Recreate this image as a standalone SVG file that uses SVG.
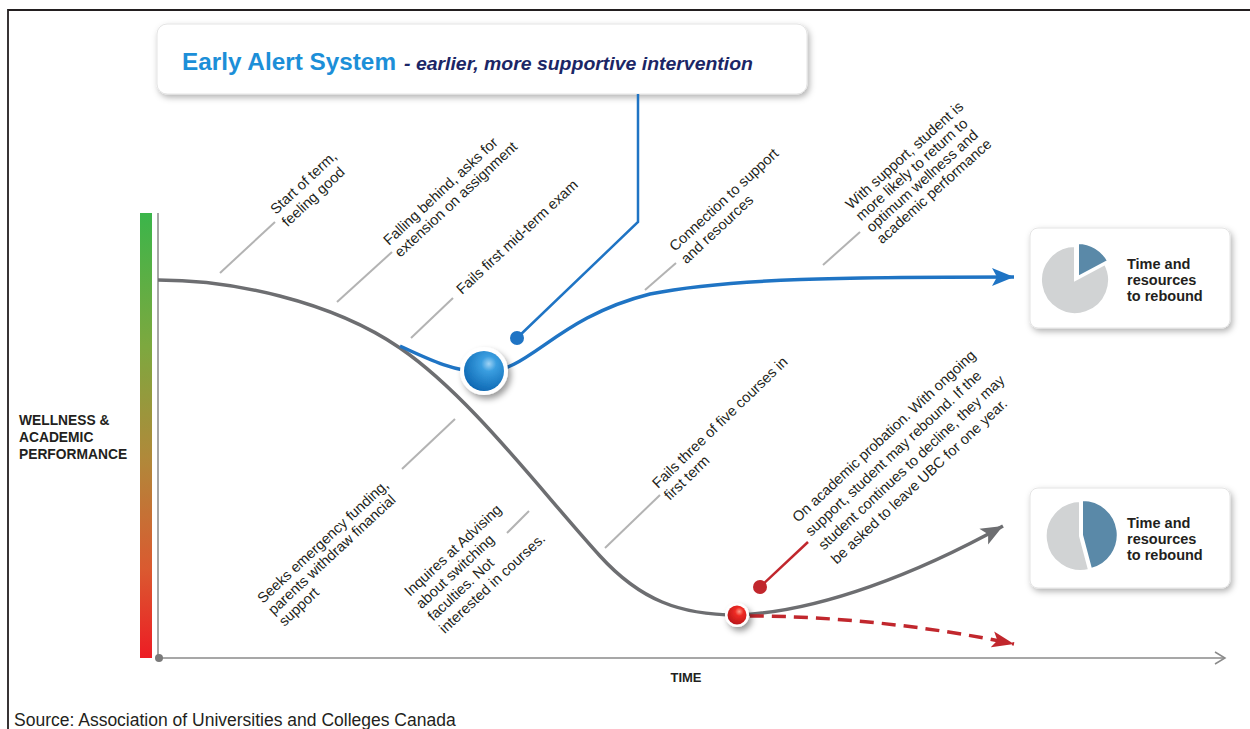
<svg xmlns="http://www.w3.org/2000/svg" width="1250" height="729" viewBox="0 0 1250 729">
<style>
.lbl{font-family:"Liberation Sans",Arial,sans-serif;font-size:14.6px;fill:#231f20}
.bold{font-family:"Liberation Sans",Arial,sans-serif;font-weight:bold;fill:#231f20}
.lead{stroke:#b3b3b3;stroke-width:2;fill:none}
.card{fill:#fff;stroke:#e4e4e4;stroke-width:1}
</style>
<defs>
<linearGradient id="bar" x1="0" y1="0" x2="0" y2="1">
<stop offset="0" stop-color="#3bb54a"/>
<stop offset="0.3" stop-color="#7da83f"/>
<stop offset="0.55" stop-color="#b0893a"/>
<stop offset="0.8" stop-color="#da5a30"/>
<stop offset="1" stop-color="#ed1c24"/>
</linearGradient>
<radialGradient id="blueBall" cx="0.62" cy="0.32" r="0.75">
<stop offset="0" stop-color="#9fd3f5"/>
<stop offset="0.25" stop-color="#3a9ee0"/>
<stop offset="1" stop-color="#0a64b0"/>
</radialGradient>
<radialGradient id="redBall" cx="0.62" cy="0.32" r="0.75">
<stop offset="0" stop-color="#ff9a8a"/>
<stop offset="0.3" stop-color="#ee2a22"/>
<stop offset="1" stop-color="#b5141a"/>
</radialGradient>
<filter id="shadow" x="-10%" y="-20%" width="125%" height="150%">
<feDropShadow dx="2" dy="3" stdDeviation="3" flood-color="#000" flood-opacity="0.3"/>
</filter>
<filter id="ballShadow" x="-50%" y="-50%" width="220%" height="220%">
<feDropShadow dx="3" dy="4" stdDeviation="3" flood-color="#000" flood-opacity="0.4"/>
</filter>
<marker id="arrBlue" markerUnits="userSpaceOnUse" markerWidth="24" markerHeight="20" refX="22" refY="10" orient="auto">
<path d="M0,1 L22,10 L0,19 L5,10 Z" fill="#1f74c4"/>
</marker>
<marker id="arrGray" markerUnits="userSpaceOnUse" markerWidth="24" markerHeight="20" refX="22" refY="10" orient="auto">
<path d="M0,1 L22,10 L0,19 L5,10 Z" fill="#6d6e71"/>
</marker>
<marker id="arrRed" markerUnits="userSpaceOnUse" markerWidth="24" markerHeight="20" refX="22" refY="10" orient="auto">
<path d="M0,2 L22,10 L0,18 L5,10 Z" fill="#c1272d"/>
</marker>
<marker id="arrAxis" markerUnits="userSpaceOnUse" markerWidth="14" markerHeight="14" refX="11" refY="7" orient="auto">
<path d="M1,1 L11,7 L1,13" fill="none" stroke="#8a8a8a" stroke-width="1.5"/>
</marker>
</defs>

<rect width="1250" height="729" fill="#fff"/>
<!-- frame -->
<path d="M8,729 L8,10 L1250,10" fill="none" stroke="#231f20" stroke-width="1.8"/>

<!-- axes -->
<g id="axes">
<rect x="140" y="213" width="12" height="445" fill="url(#bar)"/>
<line x1="158" y1="213" x2="158" y2="658" stroke="#8a8a8a" stroke-width="1.5"/>
<line x1="159" y1="658" x2="1225" y2="658" stroke="#8a8a8a" stroke-width="1.5" marker-end="url(#arrAxis)"/>
<circle cx="159" cy="658" r="4" fill="#7a7a7a"/>
<text class="bold" font-size="13.8"><tspan x="19" y="425">WELLNESS &amp;</tspan><tspan x="19" y="442">ACADEMIC</tspan><tspan x="19" y="459">PERFORMANCE</tspan></text>
<text class="bold" font-size="13" x="686" y="682" text-anchor="middle">TIME</text>
</g>

<!-- title -->
<g id="title">
<rect x="157" y="24" width="650" height="70" rx="10" class="card" filter="url(#shadow)"/>
<text x="182" y="70" font-family="'Liberation Sans',Arial,sans-serif" font-weight="bold" font-size="24" fill="#1c8fd8" textLength="214" lengthAdjust="spacingAndGlyphs">Early Alert System</text>
<text x="404" y="70" font-family="'Liberation Sans',Arial,sans-serif" font-weight="bold" font-style="italic" font-size="18" fill="#1b2666" textLength="349" lengthAdjust="spacingAndGlyphs">- earlier, more supportive intervention</text>
</g>

<!-- connectors / curves -->
<g id="connectors">
<path d="M638,94 L638,222 L517,338" fill="none" stroke="#1f74c4" stroke-width="2.5"/>
<circle cx="517" cy="338" r="7" fill="#1f74c4"/>
<path d="M158,280 C230,280 330,300 400,348 C470,396 540,490 600,556 C640,600 680,615 737,615 C820,612 920,572 1003,526" fill="none" stroke="#6d6e71" stroke-width="3.5" marker-end="url(#arrGray)"/>
<path d="M400,346 C430,360 455,372 484,372 C530,372 555,318 650,294 C730,278 850,277 1014,277" fill="none" stroke="#1f74c4" stroke-width="3.5" marker-end="url(#arrBlue)"/>
<path d="M750,616 C830,616 930,626 1014,644" fill="none" stroke="#c1272d" stroke-width="3.5" stroke-dasharray="14,8" marker-end="url(#arrRed)"/>
<line x1="808" y1="542" x2="760" y2="587" stroke="#c1272d" stroke-width="2.5"/>
<circle cx="760" cy="587" r="7" fill="#c1272d"/>
<!-- leaders -->
<line class="lead" x1="220" y1="273" x2="275" y2="222"/>
<line class="lead" x1="337" y1="302" x2="392" y2="252"/>
<line class="lead" x1="411" y1="338" x2="453" y2="298"/>
<line class="lead" x1="645" y1="290" x2="676" y2="263"/>
<line class="lead" x1="823" y1="265" x2="860" y2="232"/>
<line class="lead" x1="402" y1="469" x2="455" y2="419"/>
<line class="lead" x1="507" y1="533" x2="529" y2="511"/>
<line class="lead" x1="605" y1="548" x2="660" y2="495"/>
</g>

<!-- balls -->
<g id="blue-ball" filter="url(#ballShadow)">
<circle cx="484" cy="371" r="24" fill="#fff"/>
<circle cx="484" cy="371" r="20" fill="url(#blueBall)"/>
</g>
<g id="red-ball" filter="url(#ballShadow)">
<circle cx="737" cy="615" r="12" fill="#fff"/>
<circle cx="737" cy="615" r="9.5" fill="url(#redBall)"/>
</g>

<!-- labels -->
<g id="label-start"><text class="lbl" transform="translate(276,215) rotate(-43)"><tspan x="0" y="0">Start of term,</tspan><tspan x="0" y="17">feeling good</tspan></text></g>
<g id="label-falling"><text class="lbl" transform="translate(389,246) rotate(-43)"><tspan x="0" y="0">Falling behind, asks for</tspan><tspan x="0" y="16.5">extension on assignment</tspan></text></g>
<g id="label-midterm"><text class="lbl" transform="translate(462,295) rotate(-43)">Fails first mid-term exam</text></g>
<g id="label-connection"><text class="lbl" transform="translate(675,252) rotate(-43)"><tspan x="0" y="0">Connection to support</tspan><tspan x="0" y="17">and resources</tspan></text></g>
<g id="label-withsupport"><text class="lbl" transform="translate(851,210) rotate(-42)"><tspan x="0" y="0">With support, student is</tspan><tspan x="0" y="15.5">more likely to return to</tspan><tspan x="0" y="31">optimum wellness and</tspan><tspan x="0" y="46.5">academic performance</tspan></text></g>
<g id="label-seeks"><text class="lbl" transform="translate(263,604) rotate(-43)"><tspan x="0" y="0">Seeks emergency funding,</tspan><tspan x="0" y="15.7">parents withdraw financial</tspan><tspan x="0" y="31.4">support</tspan></text></g>
<g id="label-inquires"><text class="lbl" transform="translate(410,597) rotate(-43)"><tspan x="0" y="0">Inquires at Advising</tspan><tspan x="0" y="17">about switching</tspan><tspan x="0" y="34">faculties. Not</tspan><tspan x="0" y="51">interested in courses.</tspan></text></g>
<g id="label-failsthree"><text class="lbl" transform="translate(658,489) rotate(-44)"><tspan x="0" y="0">Fails three of five courses in</tspan><tspan x="0" y="16.8">first term</tspan></text></g>
<g id="label-probation"><text class="lbl" font-size="15" transform="translate(798,523) rotate(-43)"><tspan x="0" y="0">On academic probation. With ongoing</tspan><tspan x="0" y="19">support, student may rebound. If the</tspan><tspan x="0" y="38">student continues to decline, they may</tspan><tspan x="0" y="57">be asked to leave UBC for one year.</tspan></text></g>

<!-- rebound cards -->
<g id="card-top">
<rect x="1030" y="228" width="200" height="100" rx="8" class="card" filter="url(#shadow)"/>
<path d="M1075,280 L1105,264 A34,34 0 1 1 1075,246 Z" fill="#d1d3d4" stroke="#fff" stroke-width="2"/>
<path d="M1078,277 L1078,243 A34,34 0 0 1 1108,261 Z" fill="#5a89a8" stroke="#fff" stroke-width="2"/>
<text class="bold" font-size="14.5"><tspan x="1127" y="269">Time and</tspan><tspan x="1127" y="285">resources</tspan><tspan x="1127" y="301">to rebound</tspan></text>
</g>
<g id="card-bottom">
<rect x="1030" y="488" width="200" height="100" rx="8" class="card" filter="url(#shadow)"/>
<path d="M1080,536 L1089,570 A35,35 0 1 1 1080,501 Z" fill="#d1d3d4" stroke="#fff" stroke-width="2"/>
<path d="M1082,535 L1082,500 A35,35 0 0 1 1091,569 Z" fill="#5a89a8" stroke="#fff" stroke-width="2"/>
<text class="bold" font-size="14.5"><tspan x="1127" y="528">Time and</tspan><tspan x="1127" y="544">resources</tspan><tspan x="1127" y="560">to rebound</tspan></text>
</g>

<text x="14" y="726" font-family="'Liberation Sans',Arial,sans-serif" font-size="17.5" fill="#231f20">Source: Association of Universities and Colleges Canada</text>
</svg>
